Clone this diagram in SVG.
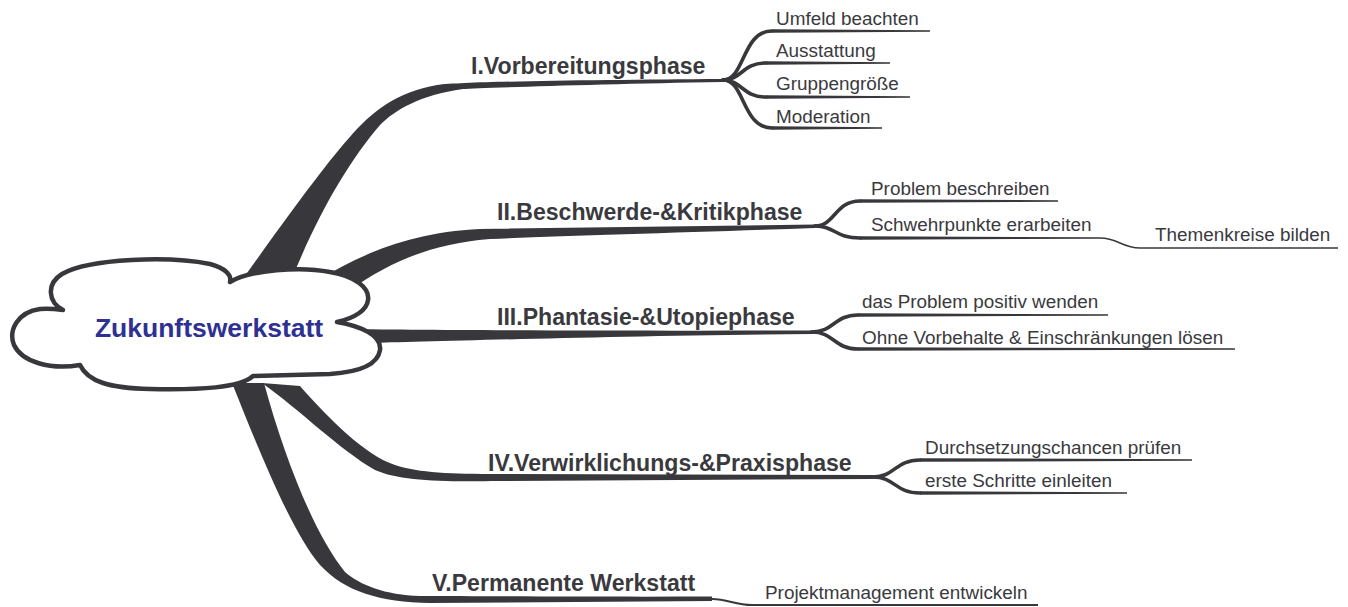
<svg xmlns="http://www.w3.org/2000/svg" width="1348" height="607" viewBox="0 0 1348 607">
<style>
.br{fill:#38383c;stroke:none}
.sc{fill:none;stroke:#38383c;stroke-width:3.6;stroke-linecap:round}
.tp{fill:#38383c;stroke:none}
.thin{fill:none;stroke:#38383c;stroke-width:1.5}
.main{font-family:"Liberation Sans",Arial,sans-serif;font-weight:bold;font-size:23.1px;fill:#3a3a3e}
.sub{font-family:"Liberation Sans",Arial,sans-serif;font-size:18.9px;fill:#3a3a3e}
.title{font-family:"Liberation Sans",Arial,sans-serif;font-weight:bold;font-size:26.5px;fill:#2e3192}
.cloud{fill:#ffffff;stroke:#38383c;stroke-width:4.5;stroke-linejoin:round}
</style>
<rect width="1348" height="607" fill="#ffffff"/>
<g id="connectors">
  <path class="br" d="M245,276 C272,238 322,168 349,138 C372,111 397,92 437,85 C470,81 600,80 723,79 L723,82 C600,84 480,88 463,89 C420,95 395,110 380,125 C350,160 320,210 293,276 Z"/>
  <path class="br" d="M318,280 C360,255 410,232 480,229 L815,224.5 L815,228 C700,232 560,236 490,239 C430,244 390,262 350,290 Z"/>
  <path class="br" d="M340,329 C420,330 600,331 812,330.5 L812,334 C600,336 420,342 370,343 L340,341 Z"/>
  <path class="br" d="M300,386 C330,420 365,455 395,465 C420,473 450,474 500,474 L873,475 L873,479 L500,481 C440,482 400,481 375,470 C340,450 300,410 262,383 Z"/>
  <path class="br" d="M232,383 C255,440 290,530 320,565 C345,592 380,602 430,603 L712,601 L712,596.5 C600,597 480,596 420,596 C385,595 360,585 345,572 C315,535 285,460 264,383 Z"/>
  <path class="sc" d="M723,80 C745,80 742,31 772,31"/>
  <polygon class="tp" points="772,29.2 930,30.3 930,31.7 772,32.8"/>
  <path class="sc" d="M723,80 C742,80 742,63 766,63"/>
  <polygon class="tp" points="766,61.2 890,62.3 890,63.7 766,64.8"/>
  <path class="sc" d="M723,80 C742,80 742,97 766,97"/>
  <polygon class="tp" points="766,95.2 910,96.3 910,97.7 766,98.8"/>
  <path class="sc" d="M723,80 C745,80 742,128 772,128"/>
  <polygon class="tp" points="772,126.2 882,127.3 882,128.7 772,129.8"/>
  <path class="sc" d="M815,226 C835,226 835,201 860,201"/>
  <polygon class="tp" points="860,199.2 1058,200.3 1058,201.7 860,202.8"/>
  <path class="sc" d="M815,226 C835,226 835,238 860,238"/>
  <polygon class="tp" points="860,236.2 1100,237.3 1100,238.7 860,239.8"/>
  <path class="thin" d="M1100,238 C1118,238 1122,248 1140,248 L1338,248"/>
  <path class="sc" d="M812,332 C834,332 834,315 858,315"/>
  <polygon class="tp" points="858,313.2 1108,314.3 1108,315.7 858,316.8"/>
  <path class="sc" d="M812,332 C834,332 834,349 858,349"/>
  <polygon class="tp" points="858,347.2 1235,348.3 1235,349.7 858,350.8"/>
  <path class="sc" d="M873,477 C895,477 895,460 920,460"/>
  <polygon class="tp" points="920,458.2 1192,459.3 1192,460.7 920,461.8"/>
  <path class="sc" d="M873,477 C895,477 895,493 920,493"/>
  <polygon class="tp" points="920,491.2 1127,492.3 1127,493.7 920,494.8"/>
  <path class="thin" style="stroke-width:2" d="M712,599 C728,599 735,605 752,605 L1038,605"/>
</g>
<g id="center">
  <path class="cloud" d="M63,310 C48,302 46,284 62,274 C90,258 170,256 210,264 C225,268 232,275 230,282 C250,270 300,266 330,272 C355,276 370,288 368,300 C367,310 355,318 337,322 C360,326 382,335 380,350 C378,364 360,372 330,374 L253,376 C240,388 200,390 150,389 C110,388 88,382 80,365 C50,370 22,362 14,345 C8,330 18,312 40,309 C48,308 56,309 63,310 Z"/>
  <text class="title" x="209" y="337" text-anchor="middle">Zukunftswerkstatt</text>
</g>
<g id="n1"><text class="main" x="471" y="74">I.Vorbereitungsphase</text></g>
<g id="n1a"><text class="sub" x="776" y="25">Umfeld beachten</text></g>
<g id="n1b"><text class="sub" x="776" y="57">Ausstattung</text></g>
<g id="n1c"><text class="sub" x="776" y="90">Gruppengröße</text></g>
<g id="n1d"><text class="sub" x="776" y="123">Moderation</text></g>
<g id="n2"><text class="main" x="497" y="220">II.Beschwerde-&amp;Kritikphase</text></g>
<g id="n2a"><text class="sub" x="871" y="195">Problem beschreiben</text></g>
<g id="n2b"><text class="sub" x="871" y="231">Schwehrpunkte erarbeiten</text></g>
<g id="n2c"><text class="sub" x="1155" y="241">Themenkreise bilden</text></g>
<g id="n3"><text class="main" x="497" y="325">III.Phantasie-&amp;Utopiephase</text></g>
<g id="n3a"><text class="sub" x="862" y="308">das Problem positiv wenden</text></g>
<g id="n3b"><text class="sub" x="862" y="344">Ohne Vorbehalte &amp; Einschränkungen lösen</text></g>
<g id="n4"><text class="main" x="488" y="471">IV.Verwirklichungs-&amp;Praxisphase</text></g>
<g id="n4a"><text class="sub" x="925" y="454">Durchsetzungschancen prüfen</text></g>
<g id="n4b"><text class="sub" x="925" y="487">erste Schritte einleiten</text></g>
<g id="n5"><text class="main" x="432" y="591">V.Permanente Werkstatt</text></g>
<g id="n5a"><text class="sub" x="765" y="599">Projektmanagement entwickeln</text></g>
</svg>
